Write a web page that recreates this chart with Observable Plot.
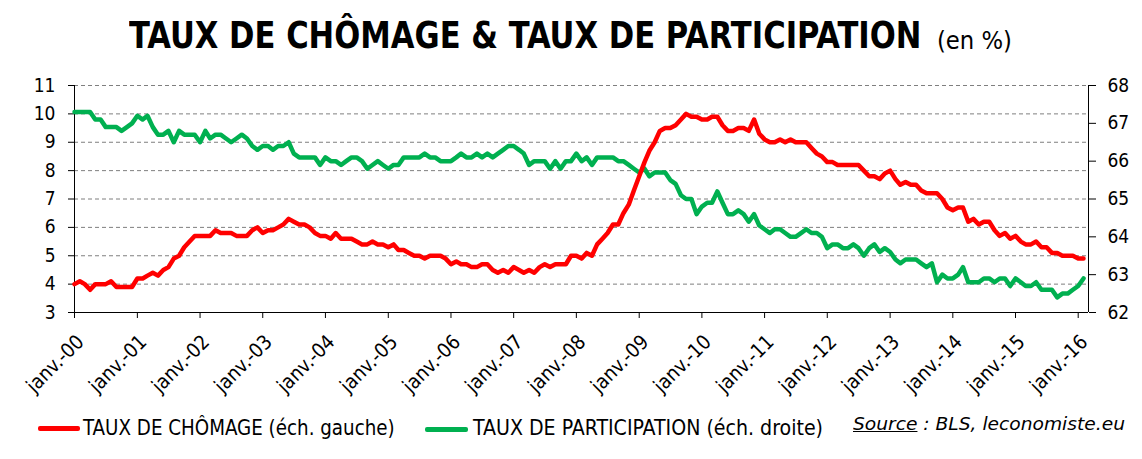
<!DOCTYPE html>
<html>
<head>
<meta charset="utf-8">
<script src="https://cdn.jsdelivr.net/npm/d3@7"></script>
<script src="https://cdn.jsdelivr.net/npm/@observablehq/plot@0.6"></script>
<style>
  html, body { margin: 0; padding: 0; background: #fff; }
  #page { position: relative; width: 1142px; height: 459px; overflow: hidden; font-family: "DejaVu Sans Condensed", "DejaVu Sans", sans-serif; color: #000; }
  .abs { position: absolute; white-space: nowrap; line-height: 1; transform-origin: 0 0; }
  #chart { position: absolute; left: 0; top: 60px; }
  .swatch { position: absolute; height: 5px; border-radius: 2px; }
</style>
</head>
<body>
<div id="page">
  <div id="t1" class="abs" style="left:129.3px; top:18.4px; font-size:36.5px; font-weight:bold;">TAUX DE CHÔMAGE &amp; TAUX DE PARTICIPATION</div>
  <div id="t2" class="abs" style="left:937px; top:28.3px; font-size:25px;">(en %)</div>
  <div id="chart"></div>
  <div class="swatch" style="left:38px; top:425.8px; width:42px; background:#FF0000;"></div>
  <div id="l1" class="abs" style="left:83.3px; top:417.7px; font-size:20.5px;">TAUX DE CHÔMAGE (éch. gauche)</div>
  <div class="swatch" style="left:425px; top:426.5px; width:43px; background:#00B050;"></div>
  <div id="l2" class="abs" style="left:473.3px; top:417.7px; font-size:20.5px;">TAUX DE PARTICIPATION (éch. droite)</div>
  <div id="src" class="abs" style="left:853px; top:414.8px; font-size:18.5px; font-style:italic;"><span style="text-decoration:underline;">Source</span> : BLS, leconomiste.eu</div>
</div>
<script>
// Monthly data, janv. 2000 -> févr. 2016 (BLS)
const startYear = 2000;
const unemployment = [
  4.0,4.1,4.0,3.8,4.0,4.0,4.0,4.1,3.9,3.9,3.9,3.9,
  4.2,4.2,4.3,4.4,4.3,4.5,4.6,4.9,5.0,5.3,5.5,5.7,
  5.7,5.7,5.7,5.9,5.8,5.8,5.8,5.7,5.7,5.7,5.9,6.0,
  5.8,5.9,5.9,6.0,6.1,6.3,6.2,6.1,6.1,6.0,5.8,5.7,
  5.7,5.6,5.8,5.6,5.6,5.6,5.5,5.4,5.4,5.5,5.4,5.4,
  5.3,5.4,5.2,5.2,5.1,5.0,5.0,4.9,5.0,5.0,5.0,4.9,
  4.7,4.8,4.7,4.7,4.6,4.6,4.7,4.7,4.5,4.4,4.5,4.4,
  4.6,4.5,4.4,4.5,4.4,4.6,4.7,4.6,4.7,4.7,4.7,5.0,
  5.0,4.9,5.1,5.0,5.4,5.6,5.8,6.1,6.1,6.5,6.8,7.3,
  7.8,8.3,8.7,9.0,9.4,9.5,9.5,9.6,9.8,10.0,9.9,9.9,
  9.8,9.8,9.9,9.9,9.6,9.4,9.4,9.5,9.5,9.4,9.8,9.3,
  9.1,9.0,9.0,9.1,9.0,9.1,9.0,9.0,9.0,8.8,8.6,8.5,
  8.3,8.3,8.2,8.2,8.2,8.2,8.2,8.0,7.8,7.8,7.7,7.9,
  8.0,7.7,7.5,7.6,7.5,7.5,7.3,7.2,7.2,7.2,7.0,6.7,
  6.6,6.7,6.7,6.2,6.3,6.1,6.2,6.2,5.9,5.7,5.8,5.6,
  5.7,5.5,5.4,5.4,5.5,5.3,5.3,5.1,5.1,5.0,5.0,5.0,
  4.9,4.9
];
const participation = [
  67.3,67.3,67.3,67.3,67.1,67.1,66.9,66.9,66.9,66.8,66.9,67.0,
  67.2,67.1,67.2,66.9,66.7,66.7,66.8,66.5,66.8,66.7,66.7,66.7,
  66.5,66.8,66.6,66.7,66.7,66.6,66.5,66.6,66.7,66.6,66.4,66.3,
  66.4,66.4,66.3,66.4,66.4,66.5,66.2,66.1,66.1,66.1,66.1,65.9,
  66.1,66.0,66.0,65.9,66.0,66.1,66.1,66.0,65.8,65.9,66.0,65.9,
  65.8,65.9,65.9,66.1,66.1,66.1,66.1,66.2,66.1,66.1,66.0,66.0,
  66.0,66.1,66.2,66.1,66.1,66.2,66.1,66.2,66.1,66.2,66.3,66.4,
  66.4,66.3,66.2,65.9,66.0,66.0,66.0,65.8,66.0,65.8,66.0,66.0,
  66.2,66.0,66.1,65.9,66.1,66.1,66.1,66.1,66.0,66.0,65.9,65.8,
  65.7,65.8,65.6,65.7,65.7,65.7,65.5,65.4,65.1,65.0,65.0,64.6,
  64.8,64.9,64.9,65.2,64.9,64.6,64.6,64.7,64.6,64.4,64.6,64.3,
  64.2,64.1,64.2,64.2,64.1,64.0,64.0,64.1,64.2,64.1,64.1,64.0,
  63.7,63.8,63.8,63.7,63.7,63.8,63.7,63.5,63.7,63.8,63.6,63.7,
  63.6,63.4,63.3,63.4,63.4,63.4,63.3,63.2,63.3,62.8,63.0,62.9,
  62.9,63.0,63.2,62.8,62.8,62.8,62.9,62.9,62.8,62.9,62.9,62.7,
  62.9,62.8,62.7,62.7,62.8,62.6,62.6,62.6,62.4,62.5,62.5,62.6,
  62.7,62.9
];
const leftTicks = [3,4,5,6,7,8,9,10,11];
const rightTicks = [62,63,64,65,66,67,68];
const tickYears = [2000,2001,2002,2003,2004,2005,2006,2007,2008,2009,2010,2011,2012,2013,2014,2015,2016];
const tickLabels = ["janv.-00","janv.-01","janv.-02","janv.-03","janv.-04","janv.-05","janv.-06","janv.-07","janv.-08","janv.-09","janv.-10","janv.-11","janv.-12","janv.-13","janv.-14","janv.-15","janv.-16"];

// right scale (62..68) mapped onto left scale (3..11)
const toLeft = p => 3 + (p - 62) * 8 / 6;
const fromLeft = v => Math.round(62 + (v - 3) * 6 / 8);

const rows = unemployment.map((u, i) => ({date: new Date(Date.UTC(startYear, i, 1)), u, p: participation[i]}));
const xStart = new Date(Date.UTC(2000, 0, 1));
const xEnd = new Date(Date.UTC(2016, 2, 1));
const xTicks = tickYears.map(y => new Date(Date.UTC(y, 0, 1)));
const labelOf = new Map(xTicks.map((d, i) => [+d, tickLabels[i]]));

const chart = Plot.plot({
  width: 1142,
  height: 340,
  marginTop: 25,
  marginBottom: 88,
  marginLeft: 74,
  marginRight: 54,
  style: {fontFamily: '"DejaVu Sans Condensed", "DejaVu Sans", sans-serif', fontSize: "19px", color: "#000", background: "#fff", overflow: "visible"},
  x: {type: "utc", domain: [xStart, xEnd]},
  y: {domain: [3, 11]},
  marks: [
    Plot.gridY(leftTicks.slice(1), {stroke: "#7f7f7f", strokeOpacity: 1, strokeWidth: 1, strokeDasharray: "4,3"}),
    Plot.axisY(leftTicks, {anchor: "left", tickSize: 6, tickPadding: 13, label: null, fontSize: 19}),
    Plot.axisY(rightTicks.map(toLeft), {anchor: "right", tickSize: 7, tickPadding: 12, label: null, tickFormat: fromLeft, fontSize: 19}),
    Plot.axisX(xTicks, {tickSize: 6, label: null, tickFormat: null, text: null}),
    Plot.text(xTicks, {x: d => d, frameAnchor: "bottom", text: d => labelOf.get(+d), rotate: -45, textAnchor: "end", lineAnchor: "middle", fontSize: 20, dx: 6, dy: 26, fill: "#000"}),
    Plot.ruleY([3], {stroke: "#000"}),
    Plot.ruleX([xStart, xEnd], {stroke: "#000"}),
    Plot.lineY(rows, {x: "date", y: d => toLeft(d.p), stroke: "#00B050", strokeWidth: 4.5}),
    Plot.lineY(rows, {x: "date", y: "u", stroke: "#FF0000", strokeWidth: 4.5})
  ]
});
document.getElementById("chart").appendChild(chart);

function fit(id, target, anchorRight) {
  const el = document.getElementById(id);
  el.style.transform = "none";
  const w = el.getBoundingClientRect().width;
  const s = target / w;
  if (anchorRight !== undefined) {
    el.style.left = (anchorRight - target) + "px";
  }
  el.style.transform = `scaleX(${s})`;
}
function fitAll() {
  fit("t1", 792.4);
  fit("t2", 75);
  fit("l1", 311.7);
  fit("l2", 350);
  fit("src", 272, 1125);
}
fitAll();
if (document.fonts && document.fonts.ready) document.fonts.ready.then(fitAll);
</script>
</body>
</html>
